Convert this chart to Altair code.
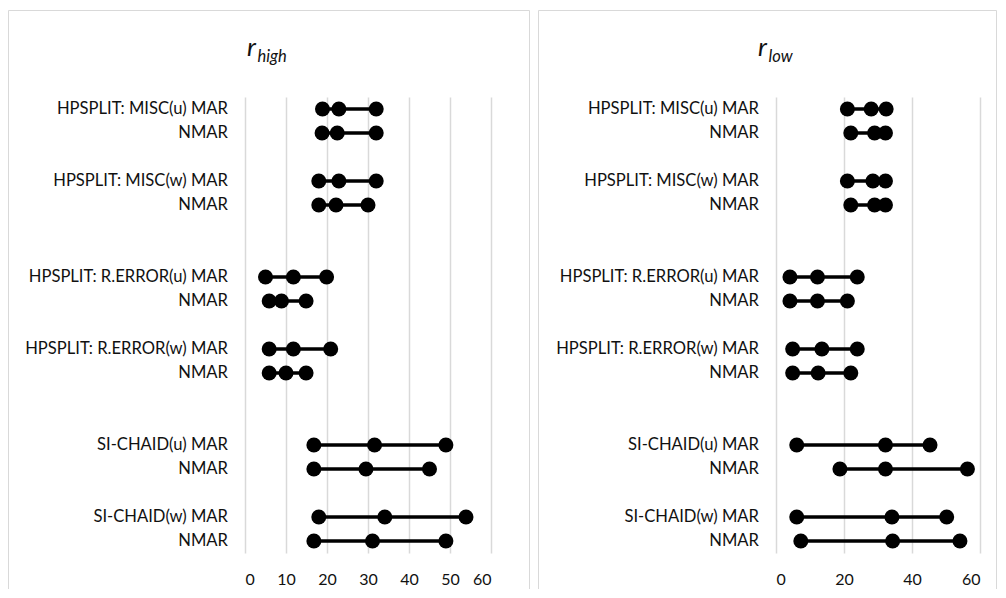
import altair as alt
import pandas as pd

# ---- data ----
rows = ["HPSPLIT: MISC(u) MAR", "NMAR", "HPSPLIT: MISC(w) MAR", "NMAR",
        "HPSPLIT: R.ERROR(u) MAR", "NMAR", "HPSPLIT: R.ERROR(w) MAR", "NMAR",
        "SI-CHAID(u) MAR", "NMAR", "SI-CHAID(w) MAR", "NMAR"]
positions = [0, 1, 3, 4, 7, 8, 10, 11, 14, 15, 17, 18]

high_v1 = [18.9, 18.8, 18.0, 18.0, 5.0, 5.9, 5.9, 5.9, 16.8, 16.8, 18.0, 16.8]
high_v2 = [22.9, 22.5, 22.9, 22.2, 11.8, 8.9, 11.8, 10.0, 31.6, 29.5, 34.1, 31.1]
high_v3 = [32.0, 32.0, 32.0, 30.0, 19.9, 14.9, 20.9, 14.9, 49.0, 45.0, 53.9, 49.0]

low_v1 = [21.0, 22.0, 21.0, 22.0, 4.1, 4.1, 4.9, 4.9, 6.1, 18.8, 6.1, 7.3]
low_v2 = [28.0, 29.0, 28.5, 29.0, 12.2, 12.2, 13.5, 12.4, 32.2, 32.2, 34.1, 34.3]
low_v3 = [32.4, 32.2, 32.2, 32.2, 23.9, 21.0, 23.9, 22.0, 45.3, 56.3, 50.2, 54.1]

high_ticks = [0, 10, 20, 30, 40, 50, 60]
low_ticks = [0, 20, 40, 60]

FONT = "Lato"
GRID = "#d9d9d9"
FRAME = "#d9d9d9"
TXT = "#111111"
PLOT_H = 456


def panel(v1, v2, v3, sub, width, ticks, fx1, fx2, rx):
    df = pd.DataFrame({"label": rows, "pos": positions, "v1": v1, "v2": v2, "v3": v3})
    long = df.melt(id_vars=["label", "pos"], value_vars=["v1", "v2", "v3"],
                   var_name="k", value_name="value")
    xscale = alt.Scale(domain=[0, 60], nice=False, zero=False)
    yscale = alt.Scale(domain=[-0.5, 18.5], reverse=True, nice=False, zero=False)
    xaxis = alt.Axis(values=ticks, grid=True, gridColor=GRID, gridWidth=1.5,
                     domain=False, ticks=False, tickSize=0, labelPadding=18,
                     labelFont=FONT, labelFontSize=16, labelColor=TXT, title=None)

    seg = alt.Chart(df).mark_rule(color="black", strokeWidth=3.5).encode(
        x=alt.X("v1:Q", scale=xscale, axis=xaxis),
        x2="v3:Q",
        y=alt.Y("pos:Q", scale=yscale, axis=None),
    )
    dots = alt.Chart(long).mark_circle(size=225, color="black", opacity=1).encode(
        x=alt.X("value:Q", scale=xscale, axis=xaxis),
        y=alt.Y("pos:Q", scale=yscale, axis=None),
    )
    labels = alt.Chart(df).mark_text(align="right", baseline="middle", font=FONT,
                                     fontSize=16.6, color=TXT).encode(
        x=alt.value(-17),
        y=alt.Y("pos:Q", scale=yscale, axis=None),
        text="label:N",
    )
    t_main = alt.Chart(pd.DataFrame({"t": ["r"]})).mark_text(
        align="right", baseline="alphabetic", font=FONT, fontStyle="italic",
        fontSize=26, color=TXT).encode(x=alt.value(rx), y=alt.value(-41), text="t:N")
    t_sub = alt.Chart(pd.DataFrame({"t": [sub]})).mark_text(
        align="left", baseline="alphabetic", font=FONT, fontStyle="italic",
        fontSize=16.5, color=TXT).encode(x=alt.value(rx + 1.5), y=alt.value(-35), text="t:N")

    one = pd.DataFrame({"a": [0]})
    top = -86.5
    bottom = 492
    f_top = alt.Chart(one).mark_rule(color=FRAME, strokeWidth=1).encode(
        x=alt.value(fx1), x2=alt.value(fx2), y=alt.value(top))
    f_left = alt.Chart(one).mark_rule(color=FRAME, strokeWidth=1).encode(
        x=alt.value(fx1), y=alt.value(top), y2=alt.value(bottom))
    f_right = alt.Chart(one).mark_rule(color=FRAME, strokeWidth=1).encode(
        x=alt.value(fx2), y=alt.value(top), y2=alt.value(bottom))

    return alt.layer(seg, dots, labels, t_main, t_sub, f_top, f_left, f_right).properties(
        width=width, height=PLOT_H)


left = panel(high_v1, high_v2, high_v3, "high", 246, high_ticks, -236.5, 284.5, 11)
right = panel(low_v1, low_v2, low_v3, "low", 204, low_ticks, -237.5, 220.5, -9)

chart = alt.hconcat(left, right, spacing=8).properties(
    padding={"top": 2, "left": 0, "right": 0, "bottom": 0}
).configure_view(strokeWidth=0)

chart.save("out.html", embed_options={"renderer": "svg", "actions": False})
